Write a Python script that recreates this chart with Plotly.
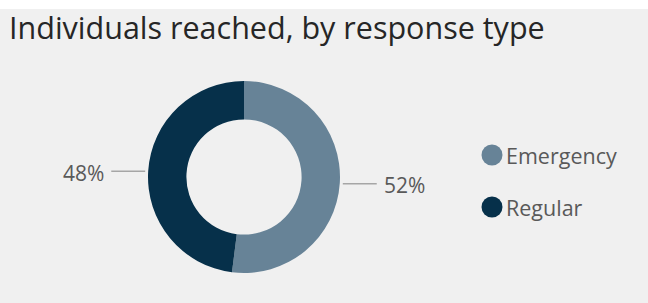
import math
import plotly.graph_objects as go

categories = ["Emergency", "Regular"]
values = [52, 48]
colors = ["#678397", "#06304a"]
title_text = "Individuals reached, by response type"

W, H = 648, 303
cx, cy, R = 244, 177, 96  # pixel layout of the donut

def px(x):
    return x / W

def py(y):
    return 1 - y / H

fig = go.Figure()
fig.add_trace(go.Pie(
    labels=categories, values=values, hole=0.6,
    sort=False, direction="clockwise", rotation=0,
    marker=dict(colors=colors, line=dict(width=0)),
    textinfo="none", hoverinfo="label+percent", showlegend=False,
    domain=dict(x=[px(cx - R), px(cx + R)], y=[py(cy + R), py(cy - R)]),
))

shapes = [dict(type="rect", xref="paper", yref="paper", x0=0, x1=1,
               y0=py(9), y1=1.01, fillcolor="white", line=dict(width=0), layer="below")]
annotations = [dict(text=title_text, x=px(7), y=py(27), xref="paper", yref="paper",
                    xanchor="left", yanchor="middle", showarrow=False,
                    font=dict(family="Open Sans", size=30.5, color="#262626"))]

total = sum(values)
cum = 0
for v in values:
    mid = (cum + v / 2) / total * 2 * math.pi
    cum += v
    dx, dy = math.sin(mid), -math.cos(mid)
    r1, r2, r3 = R + 3, R + 37, R + 42
    shapes.append(dict(type="line", xref="paper", yref="paper",
                       x0=px(cx + dx * r1), y0=py(cy + dy * r1 + 0.5),
                       x1=px(cx + dx * r2), y1=py(cy + dy * r1 + 0.5),
                       line=dict(color="#a6a6a6", width=1.5)))
    pct = round(v / total * 100)
    annotations.append(dict(text=f"{pct}%", x=px(cx + dx * r3), y=py(cy + dy * r1 + 2),
                            xref="paper", yref="paper",
                            xanchor="left" if dx > 0 else "right", yanchor="middle",
                            showarrow=False,
                            font=dict(family="Open Sans", size=21, color="#595959")))

# legend
leg_y = [155, 207]
for name, col, y in zip(categories, colors, leg_y):
    shapes.append(dict(type="circle", xref="paper", yref="paper",
                       xsizemode="pixel", ysizemode="pixel",
                       xanchor=px(492), yanchor=py(y),
                       x0=-10.5, x1=10.5, y0=-10.5, y1=10.5,
                       fillcolor=col, line=dict(width=0)))
    annotations.append(dict(text=name, x=px(504), y=py(y), xref="paper", yref="paper",
                            xanchor="left", yanchor="middle", showarrow=False,
                            font=dict(family="Open Sans", size=21.5, color="#595959")))

fig.update_layout(
    width=W, height=H, margin=dict(l=0, r=0, t=0, b=0),
    paper_bgcolor="#f0f0f0", plot_bgcolor="#f0f0f0",
    shapes=shapes, annotations=annotations,
)
fig.write_html("out.html", config={"displayModeBar": False},
               post_script="document.body.style.margin='0';document.body.style.overflow='hidden';")
